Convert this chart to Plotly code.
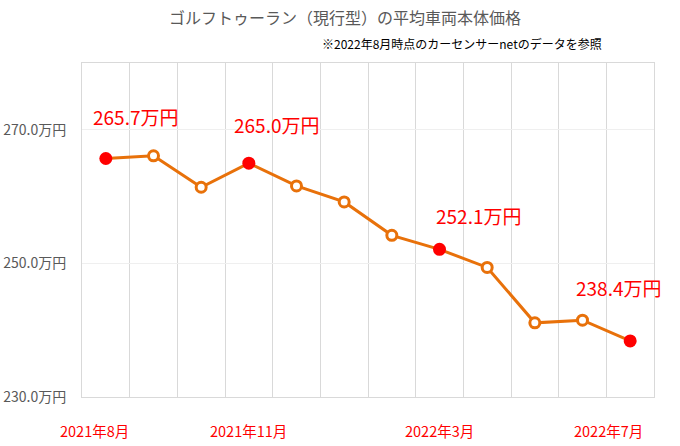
import plotly.graph_objects as go

months = ["2021年8月", "2021年9月", "2021年10月", "2021年11月", "2021年12月", "2022年1月",
          "2022年2月", "2022年3月", "2022年4月", "2022年5月", "2022年6月", "2022年7月"]
prices = [265.7, 266.1, 261.4, 265.0, 261.6, 259.2, 254.2, 252.1, 249.4, 241.1, 241.5, 238.4]
highlight = [True, False, False, True, False, False, False, True, False, False, False, True]
y_ticks = [230, 250, 270]
y_tick_text = ["230.0万円", "250.0万円", "270.0万円"]
x_label_months = ["2021年8月", "2021年11月", "2022年3月", "2022年7月"]
title_text = "ゴルフトゥーラン（現行型）の平均車両本体価格"
subtitle_text = "※2022年8月時点のカーセンサーnetのデータを参照"

ORANGE = "#E8710A"
RED = "#FF0000"
CJK = "Noto Sans CJK JP"

fig = go.Figure()
fig.add_trace(go.Scatter(
    x=months, y=prices, mode="lines+markers",
    line=dict(color=ORANGE, width=3),
    marker=dict(
        size=[13 if h else 10 for h in highlight],
        color=[RED if h else "white" for h in highlight],
        opacity=1,
        line=dict(color=[RED if h else ORANGE for h in highlight], width=[0 if h else 3 for h in highlight]),
    ),
    hoverinfo="skip", showlegend=False, cliponaxis=False,
))

# data labels
label_shift = {0: (30, 42), 3: (28, 39), 7: (39, 34), 11: (-12, 53)}
for i, (dx, dy) in label_shift.items():
    fig.add_annotation(x=months[i], y=prices[i], text=f"{prices[i]:.1f}万円", showarrow=False,
                       xshift=dx, yshift=dy, font=dict(family=CJK, size=19, color=RED))

# x labels (text boxes under axis)
x_shift = {"2021年8月": -11, "2021年11月": 0, "2022年3月": 0, "2022年7月": -22}
for m in x_label_months:
    fig.add_annotation(x=m, y=0, yref="paper", yshift=-33, text=m, showarrow=False,
                       yanchor="middle", xshift=x_shift[m], font=dict(family=CJK, size=14.5, color=RED))

fig.add_annotation(xref="paper", yref="paper", x=(345 - 82) / 572, y=1 + (63 - 17) / 333,
                   text=title_text, showarrow=False,
                   font=dict(family=CJK, size=16, color="#595959"), xanchor="center", yanchor="middle")
fig.add_annotation(xref="paper", yref="paper", x=(462 - 82) / 572, y=1 + (63 - 44) / 333,
                   text=subtitle_text, showarrow=False,
                   font=dict(family=CJK, size=12, color="#000000"), xanchor="center", yanchor="middle")

fig.update_layout(
    width=680, height=446,
    margin=dict(l=82, r=26, t=63, b=49),
    paper_bgcolor="white", plot_bgcolor="white",
    xaxis=dict(type="category", categoryorder="array", categoryarray=months,
               range=[-0.5, 11.5], tickson="boundaries", tickmode="linear", dtick=1,
               showgrid=True, gridcolor="#D9D9D9", automargin=False,
               gridwidth=1, showticklabels=False, ticks="", zeroline=False,
               showline=True, linecolor="#D9D9D9", mirror=True),
    yaxis=dict(range=[230, 280], tickvals=y_ticks, ticktext=y_tick_text, showgrid=True, automargin=False,
               gridcolor="#EFEFEF", zeroline=False, showline=True, linecolor="#D9D9D9", mirror=True,
               tickfont=dict(family=CJK, size=14, color="#595959"), ticks="", ticklabelstandoff=12),
)

fig.write_html("out.html")
